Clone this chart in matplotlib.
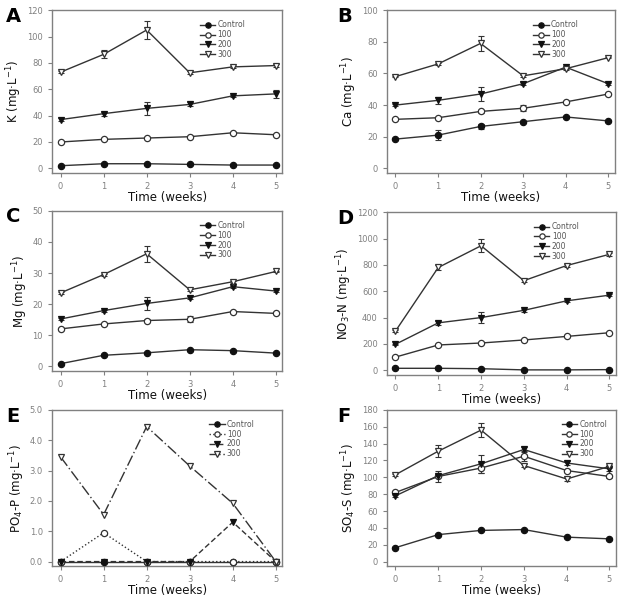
import numpy as np
import matplotlib
matplotlib.use("Agg")
import matplotlib.pyplot as plt
import matplotlib.ticker as mticker

plt.rcParams["font.family"] = ["DejaVu Sans"]

weeks = [0, 1, 2, 3, 4, 5]
series_names = ["Control", "100", "200", "300"]

# K (mg/L)
k_ctrl = [2, 3.5, 3.5, 3, 2.5, 2.5]
k_100 = [20, 22, 23, 24, 27, 25.5]
k_200 = [37, 41.5, 45.5, 48.5, 55, 56.5]
k_300 = [73, 86.5, 105, 72.5, 77, 78]
k_err_200 = [1, 1.5, 5, 1.5, 1, 3]
k_err_300 = [1, 3, 7, 1, 1, 1]

# Ca
ca_ctrl = [18.5, 21, 26.5, 29.5, 32.5, 30]
ca_100 = [31, 32, 36, 38, 42, 47]
ca_200 = [40, 43, 47, 53.5, 64, 53.5]
ca_300 = [58, 66, 79, 58.5, 63, 70]
ca_err_ctrl = [0.5, 3, 1.5, 0.5, 0.5, 0.5]
ca_err_100 = [0.5, 0.5, 1, 2, 0.5, 0.5]
ca_err_200 = [0.5, 2, 4.5, 1, 1, 0.5]
ca_err_300 = [0.5, 0.5, 5, 0.5, 0.5, 0.5]

# Mg
mg_ctrl = [0.8, 3.5, 4.3, 5.3, 5.0, 4.2]
mg_100 = [12, 13.6, 14.7, 15.1, 17.6, 17]
mg_200 = [15.2, 17.9, 20.2, 22, 25.6, 24.2]
mg_300 = [23.6, 29.5, 36.2, 24.6, 27.2, 30.5]
mg_err_100 = [0.3, 0.3, 0.5, 1, 0.3, 0.3]
mg_err_200 = [0.3, 0.3, 2, 0.5, 0.3, 0.3]
mg_err_300 = [0.3, 0.3, 2.5, 0.3, 0.3, 0.3]

# NO3-N
no3_ctrl = [15, 15, 12, 3, 3, 5]
no3_100 = [100, 192, 207, 230, 257, 285]
no3_200 = [197, 360, 400, 455, 527, 570]
no3_300 = [297, 780, 945, 680, 795, 880]
no3_err_200 = [5, 15, 40, 10, 10, 10]
no3_err_300 = [5, 20, 50, 10, 10, 10]

# PO4-P
po4_ctrl = [0, 0, 0, 0, 0, 0]
po4_100 = [0, 0.95, 0, 0, 0, 0]
po4_200 = [0, 0, 0, 0, 1.3, 0]
po4_300 = [3.45, 1.55, 4.45, 3.15, 1.92, 0]

# SO4-S
so4_ctrl = [16.5, 32, 37, 38, 29, 27]
so4_100 = [82, 101, 111, 125, 108, 101]
so4_200 = [78, 102, 116, 133, 117, 110]
so4_300 = [103, 131, 156, 114, 98, 113]
so4_err_100 = [1, 6, 6, 6, 2, 2]
so4_err_200 = [1, 2, 11, 3, 2, 2]
so4_err_300 = [1, 7, 8, 2, 2, 2]

LINE = "#333333"
GRAY = "#808080"
styles = [
    dict(marker="o", mfc="#111111", mec="#111111"),
    dict(marker="o", mfc="white", mec=LINE),
    dict(marker="v", mfc="#111111", mec="#111111"),
    dict(marker="v", mfc="white", mec=LINE),
]


def draw_panel(ax, letter, letter_xy, ylabel, ys, errs, ymax, ystep, fmt=None,
               linestyles=None, leg_loc=(0.62, 0.97)):
    pad = ymax * 0.03
    for i, y in enumerate(ys):
        ls = linestyles[i] if linestyles else "-"
        ax.plot(weeks, y, ls=ls, color=LINE, lw=1.0, ms=4.5, mew=0.9,
                label=series_names[i], zorder=3, **styles[i])
        if errs and errs[i] is not None:
            ax.errorbar(weeks, y, yerr=errs[i], fmt="none", ecolor=LINE,
                        elinewidth=0.8, capsize=2.5, capthick=0.8, zorder=2)
    ax.set_xlim(-0.2, 5.15)
    ax.set_ylim(-pad, ymax)
    ax.set_xticks(weeks)
    ax.set_yticks(np.arange(0, ymax + ystep / 2, ystep))
    if fmt:
        ax.yaxis.set_major_formatter(mticker.FormatStrFormatter(fmt))
    ax.tick_params(labelsize=6, colors=GRAY, labelcolor=GRAY, length=3,
                   width=0.8, direction="out")
    for sp in ax.spines.values():
        sp.set_color(GRAY)
        sp.set_linewidth(1.0)
    ax.set_xlabel("Time (weeks)", fontsize=8.5, color="#111111", labelpad=0)
    ax.set_ylabel(ylabel, fontsize=8.5, color="#111111", labelpad=2)
    leg = ax.legend(loc="upper left", bbox_to_anchor=leg_loc, frameon=False,
                    fontsize=5.5, handlelength=2.0, labelspacing=0.1,
                    handletextpad=0.3, borderpad=0.2, numpoints=1,
                    markerscale=0.85)
    for t in leg.get_texts():
        t.set_color("#555555")
    fig.text(letter_xy[0], letter_xy[1], letter, fontsize=14,
             fontweight="bold", ha="left", va="top")


fig = plt.figure(figsize=(6.19, 6.01), dpi=100)
ax_a = fig.add_axes([0.084, 0.712, 0.372, 0.271])
ax_b = fig.add_axes([0.625, 0.712, 0.368, 0.271])
ax_c = fig.add_axes([0.084, 0.383, 0.372, 0.266])
ax_d = fig.add_axes([0.625, 0.376, 0.370, 0.271])
ax_e = fig.add_axes([0.084, 0.058, 0.372, 0.260])
ax_f = fig.add_axes([0.625, 0.058, 0.370, 0.260])

draw_panel(ax_a, "A", (0.010, 0.988), "K (mg·L$^{-1}$)",
           [k_ctrl, k_100, k_200, k_300], [None, None, k_err_200, k_err_300],
           120, 20)
draw_panel(ax_b, "B", (0.545, 0.988), "Ca (mg·L$^{-1}$)",
           [ca_ctrl, ca_100, ca_200, ca_300],
           [ca_err_ctrl, ca_err_100, ca_err_200, ca_err_300], 100, 20)
draw_panel(ax_c, "C", (0.010, 0.655), "Mg (mg·L$^{-1}$)",
           [mg_ctrl, mg_100, mg_200, mg_300],
           [None, mg_err_100, mg_err_200, mg_err_300], 50, 10)
draw_panel(ax_d, "D", (0.545, 0.652), "NO$_3$-N (mg·L$^{-1}$)",
           [no3_ctrl, no3_100, no3_200, no3_300],
           [None, None, no3_err_200, no3_err_300], 1200, 200)
draw_panel(ax_e, "E", (0.010, 0.322), "PO$_4$-P (mg·L$^{-1}$)",
           [po4_ctrl, po4_100, po4_200, po4_300], None, 5.0, 1.0, fmt="%.1f",
           linestyles=["-", ":", (0, (4, 2)), (0, (8, 2, 1, 2))],
           leg_loc=(0.66, 0.97))
draw_panel(ax_f, "F", (0.545, 0.322), "SO$_4$-S (mg·L$^{-1}$)",
           [so4_ctrl, so4_100, so4_200, so4_300],
           [None, so4_err_100, so4_err_200, so4_err_300], 180, 20,
           leg_loc=(0.74, 0.97))

fig.savefig("out.png", dpi=100)
